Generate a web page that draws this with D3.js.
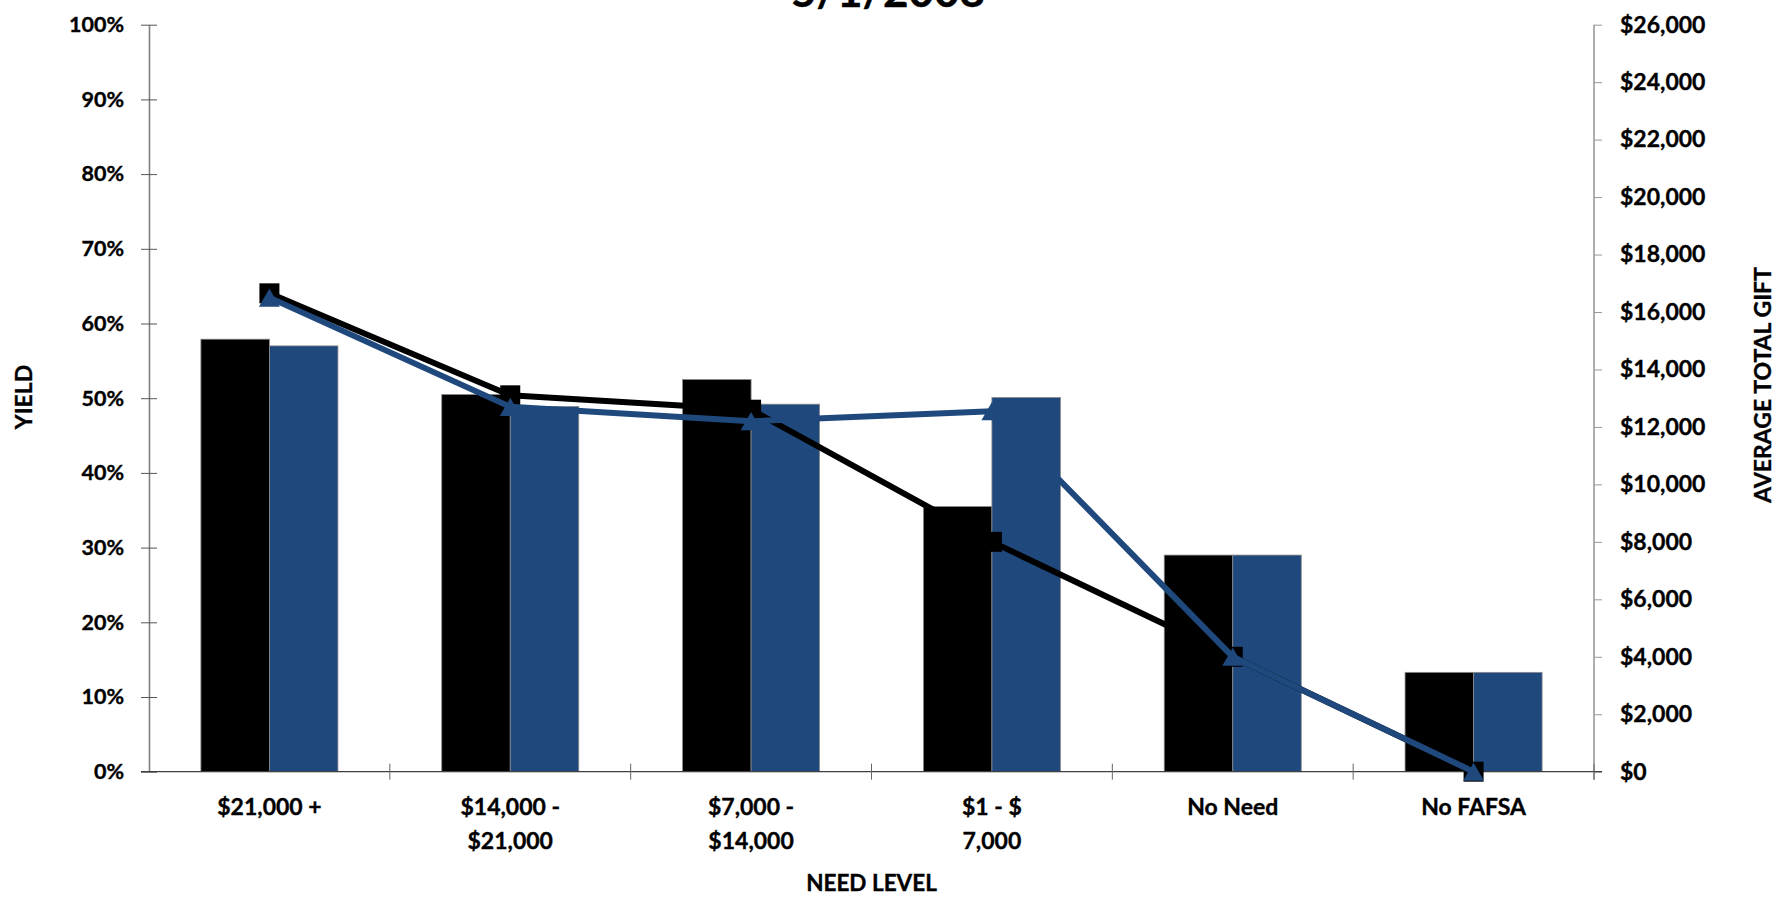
<!DOCTYPE html>
<html>
<head>
<meta charset="utf-8">
<script src="https://cdn.jsdelivr.net/npm/d3@7"></script>
<style>
  html, body { margin: 0; padding: 0; background: #fff; }
  svg { display: block; font-family: Lato, "Open Sans", sans-serif; font-weight: 700; }
  svg text { stroke: #000; stroke-width: 0.35px; }
</style>
</head>
<body>
<svg id="chart" width="1777" height="898"></svg>
<script>
// Need-level categories (each label split into its displayed lines)
const categories = [
  ["$21,000 +"],
  ["$14,000 -", "$21,000"],
  ["$7,000 -", "$14,000"],
  ["$1 - $", "7,000"],
  ["No Need"],
  ["No FAFSA"]
];

// Yield by need level (bars, left axis)
const priorYield   = [0.579, 0.505, 0.525, 0.355, 0.290, 0.133];
const currentYield = [0.570, 0.489, 0.492, 0.501, 0.290, 0.133];

// Average total gift by need level (lines, right axis)
const priorGift   = [16650, 13100, 12600, 8000, 4000, 0];
const currentGift = [16500, 12700, 12200, 12550, 4000, 0];

// Axis ticks
const yieldTicks = [0, 0.1, 0.2, 0.3, 0.4, 0.5, 0.6, 0.7, 0.8, 0.9, 1.0];
const giftTicks  = [0, 2000, 4000, 6000, 8000, 10000, 12000, 14000, 16000, 18000, 20000, 22000, 24000, 26000];

const titleText = "5/1/2008";
const xTitle = "NEED LEVEL";
const yTitle = "YIELD";
const y2Title = "AVERAGE TOTAL GIFT";

const BLACK = "#000000";
const BLUE = "#1F497D";

const svg = d3.select("#chart");
const plot = { left: 149, right: 1594, top: 24.7, bottom: 771.7 };

const idx = categories.map((d, i) => i);

const x = d3.scaleBand().domain(idx).range([plot.left, plot.right]).paddingInner(0).paddingOuter(0);
const yL = d3.scaleLinear().domain([0, 1]).range([plot.bottom, plot.top]);
const yR = d3.scaleLinear().domain([0, 26000]).range([plot.bottom, plot.top]);

// Two bars per category, centered in the band
const groupFrac = 0.569;
const xInner = d3.scaleBand().domain([0, 1]).range([0, x.bandwidth() * groupFrac]);
const groupOffset = x.bandwidth() * (1 - groupFrac) / 2;

// Title (runs off the top edge)
svg.append("text")
  .attr("x", 888).attr("y", 7)
  .attr("text-anchor", "middle")
  .attr("font-size", 44)
  .attr("fill", "#000")
  .text(titleText);

// Bars
const barSeries = [
  { values: priorYield, color: BLACK, k: 0 },
  { values: currentYield, color: BLUE, k: 1 }
];
barSeries.forEach(s => {
  svg.append("g").selectAll("rect")
    .data(s.values)
    .join("rect")
    .attr("x", (d, i) => x(i) + groupOffset + xInner(s.k))
    .attr("width", xInner.bandwidth())
    .attr("y", d => yL(d))
    .attr("height", d => yL(0) - yL(d))
    .attr("fill", s.color)
    .attr("stroke", "#8a8a8a")
    .attr("stroke-width", 0.8);
});

// Left axis
const leftAxis = d3.axisLeft(yL).tickValues(yieldTicks).tickFormat(d3.format(".0%")).tickSize(0).tickPadding(25);
const gL = svg.append("g").attr("transform", `translate(${plot.left},0)`).call(leftAxis);
gL.select(".domain").attr("stroke", "#7f7f7f").attr("stroke-width", 1.6);
gL.selectAll(".tick text").attr("font-size", 21.5).attr("font-family", "Lato").attr("font-weight", 700).attr("fill", "#000");
gL.selectAll(".tick").append("line").attr("x1", -8).attr("x2", 8).attr("stroke", "#555").attr("stroke-width", 1);

// Right axis
const rightAxis = d3.axisRight(yR).tickValues(giftTicks).tickFormat(d => "$" + d3.format(",")(d)).tickSize(8).tickPadding(18);
const gR = svg.append("g").attr("transform", `translate(${plot.right},0)`).call(rightAxis);
gR.select(".domain").attr("stroke", "#999").attr("stroke-width", 1.6).attr("d", `M0,${plot.top}V${plot.bottom + 8}`);
gR.selectAll(".tick line").attr("stroke", "#999").attr("stroke-width", 1);
gR.selectAll(".tick text").attr("font-size", 23).attr("font-family", "Lato").attr("font-weight", 700).attr("fill", "#000");

// Category axis
const gX = svg.append("g").attr("transform", `translate(0,${plot.bottom})`);
gX.append("line").attr("x1", plot.left - 8).attr("x2", plot.right + 8).attr("stroke", "#404040").attr("stroke-width", 1.2);
const boundaries = idx.slice(1).map(i => x(i)).concat([plot.right]);
gX.selectAll("line.tk").data(boundaries).join("line")
  .attr("class", "tk")
  .attr("x1", d => d).attr("x2", d => d).attr("y1", -8).attr("y2", 8)
  .attr("stroke", "#666").attr("stroke-width", 1);
const catLabels = gX.selectAll("text.cat").data(categories).join("text")
  .attr("class", "cat")
  .attr("text-anchor", "middle")
  .attr("font-size", 23)
  .attr("fill", "#000");
catLabels.each(function(lines, i) {
  const t = d3.select(this);
  lines.forEach((ln, j) => {
    t.append("tspan")
      .attr("x", x(i) + x.bandwidth() / 2)
      .attr("y", 43 + j * 34)
      .text(ln);
  });
});

// Lines with markers
const line = (scale) => d3.line().x((d, i) => x(i) + x.bandwidth() / 2).y(d => scale(d));

svg.append("path")
  .datum(priorGift)
  .attr("d", line(yR))
  .attr("fill", "none").attr("stroke", BLACK).attr("stroke-width", 6).attr("stroke-linejoin", "round");
svg.append("g").selectAll("path")
  .data(priorGift).join("path")
  .attr("d", d3.symbol(d3.symbolSquare, 400)())
  .attr("transform", (d, i) => `translate(${x(i) + x.bandwidth() / 2},${yR(d)})`)
  .attr("fill", BLACK);

svg.append("path")
  .datum(currentGift)
  .attr("d", line(yR))
  .attr("fill", "none").attr("stroke", BLUE).attr("stroke-width", 6).attr("stroke-linejoin", "round");
const triSize = 190;
const triH = Math.sqrt(triSize * 4 / Math.sqrt(3)) * Math.sqrt(3) / 2;
svg.append("g").selectAll("path")
  .data(currentGift).join("path")
  .attr("d", d3.symbol(d3.symbolTriangle, triSize)())
  .attr("transform", (d, i) => `translate(${x(i) + x.bandwidth() / 2},${yR(d) + triH / 6})`)
  .attr("fill", BLUE);

// Axis titles
svg.append("text")
  .attr("x", (plot.left + plot.right) / 2).attr("y", 891)
  .attr("text-anchor", "middle").attr("font-size", 22.5).attr("fill", "#000")
  .text(xTitle);
svg.append("text")
  .attr("transform", `translate(32,397) rotate(-90)`)
  .attr("text-anchor", "middle").attr("font-size", 23).attr("fill", "#000")
  .text(yTitle);
svg.append("text")
  .attr("transform", `translate(1771,385) rotate(-90)`)
  .attr("text-anchor", "middle").attr("font-size", 23).attr("fill", "#000")
  .text(y2Title);
</script>
</body>
</html>
